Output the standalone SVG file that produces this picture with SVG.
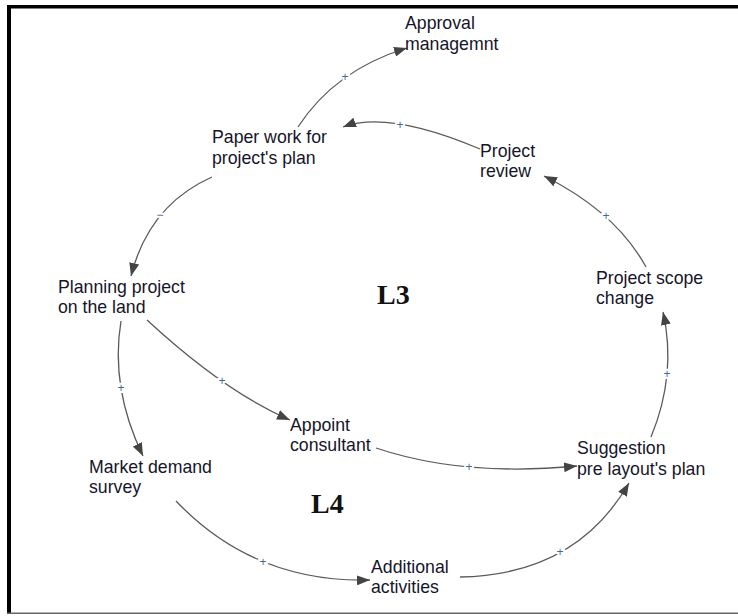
<svg xmlns="http://www.w3.org/2000/svg" width="738" height="616" viewBox="0 0 738 616">
<style>
.lbl{font-family:"Liberation Sans",Arial,sans-serif;font-size:17.7px;fill:#15152a;}
.loop{font-family:"Liberation Serif","Times New Roman",serif;font-size:28px;font-weight:bold;fill:#111;}
.edge{fill:none;stroke:#5a5a5a;stroke-width:1.3;marker-end:url(#arr);}
.pol{font-family:"Liberation Sans",Arial,sans-serif;font-size:12px;fill:#3d6a9e;text-anchor:middle;stroke:#fff;stroke-width:4;paint-order:stroke;}
</style>
<defs>
<marker id="arr" markerUnits="userSpaceOnUse" markerWidth="14" markerHeight="10" refX="13" refY="5" orient="auto">
<path d="M0,0 L13,5 L0,10 Z" fill="#444"/>
</marker>
</defs>
<rect x="0" y="0" width="738" height="616" fill="#fff"/>
<g id="frame">
<rect x="7" y="5" width="731" height="3.5" fill="#000"/>
<rect x="7" y="5" width="4" height="609" fill="#000"/>
<rect x="7" y="612.5" width="731" height="1.5" fill="#666"/>
</g>
<g id="connectors">
<path class="edge" d="M298,127 Q335,70 407,48"/>
<path class="edge" d="M480,149 Q388,110 343,127"/>
<path class="edge" d="M646,267 Q616,212 544,176"/>
<path class="edge" d="M651,437 Q677,374 663,312"/>
<path class="edge" d="M212,177 Q149,205 131,276"/>
<path class="edge" d="M121,321 Q110,388 143,456"/>
<path class="edge" d="M147,320 Q225,392 290,420"/>
<path class="edge" d="M376,448 Q462,477 577,466"/>
<path class="edge" d="M176,501 Q254,583 370,580"/>
<path class="edge" d="M460,577 Q576,575 629,483"/>
<text class="pol" x="345" y="81">+</text>
<text class="pol" x="400" y="129">+</text>
<text class="pol" x="606" y="220">+</text>
<text class="pol" x="667" y="378">+</text>
<text class="pol" x="160" y="219">−</text>
<text class="pol" x="121" y="392">+</text>
<text class="pol" x="222" y="385">+</text>
<text class="pol" x="469" y="471">+</text>
<text class="pol" x="263" y="566">+</text>
<text class="pol" x="560" y="556">+</text>
</g>
<g id="approval"><text class="lbl" x="405" y="29">Approval</text><text class="lbl" x="405" y="50">managemnt</text></g>
<g id="paperwork"><text class="lbl" x="212" y="143">Paper work for</text><text class="lbl" x="212" y="164">project's plan</text></g>
<g id="review"><text class="lbl" x="480" y="157">Project</text><text class="lbl" x="480" y="177">review</text></g>
<g id="scope"><text class="lbl" x="596" y="284">Project scope</text><text class="lbl" x="596" y="304">change</text></g>
<g id="planning"><text class="lbl" x="58" y="293">Planning project</text><text class="lbl" x="58" y="313">on the land</text></g>
<g id="appoint"><text class="lbl" x="290" y="431">Appoint</text><text class="lbl" x="290" y="451">consultant</text></g>
<g id="market"><text class="lbl" x="89" y="473">Market demand</text><text class="lbl" x="89" y="493">survey</text></g>
<g id="suggestion"><text class="lbl" x="577" y="454">Suggestion</text><text class="lbl" x="577" y="475">pre layout's plan</text></g>
<g id="additional"><text class="lbl" x="371" y="573">Additional</text><text class="lbl" x="371" y="593">activities</text></g>
<g id="L3"><text class="loop" x="377" y="304">L3</text></g>
<g id="L4"><text class="loop" x="311" y="513">L4</text></g>
</svg>
